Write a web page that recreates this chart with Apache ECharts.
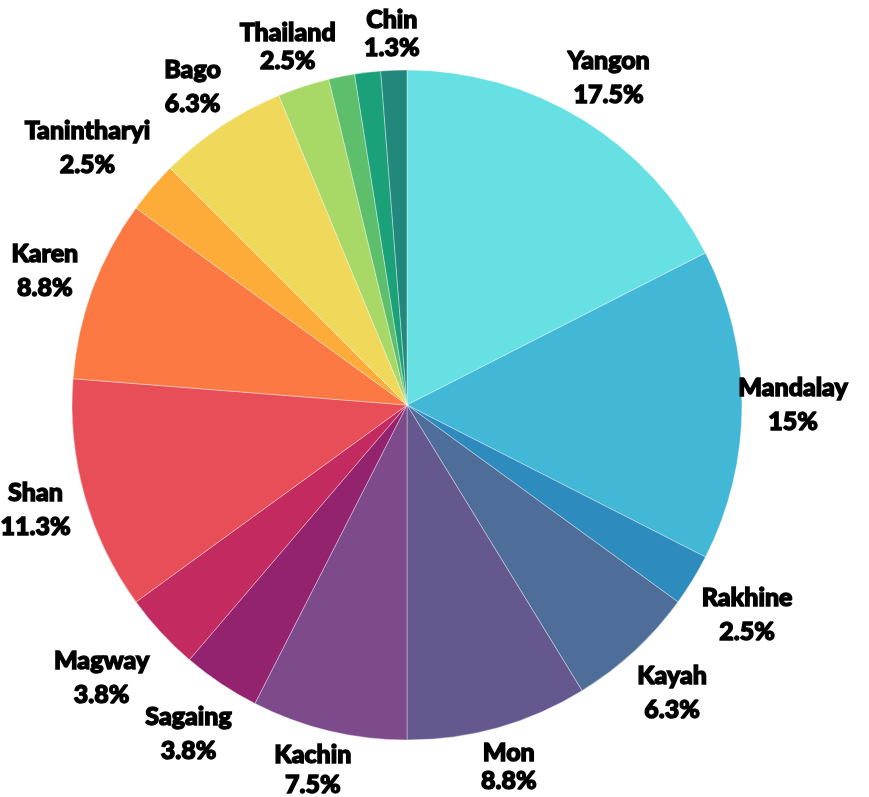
<!DOCTYPE html>
<html>
<head>
<meta charset="utf-8">
<script src="https://cdn.jsdelivr.net/npm/echarts@6/dist/echarts.min.js"></script>
<style>
html,body{margin:0;padding:0;background:#fff;}
#chart{width:869px;height:797px;}
</style>
</head>
<body>
<div id="chart"></div>
<script>
const categories = ["Yangon","Mandalay","Rakhine","Kayah","Mon","Kachin","Sagaing","Magway","Shan","Karen","Tanintharyi","Bago","Thailand","Ayeyarwady","Naypyidaw","Chin"];
const values = [14,12,2,5,7,6,3,3,9,7,2,5,2,1,1,1];
const colors = ["#67e0e3","#42b7d6","#2e8bbd","#4e6e99","#64588f","#7d4a8c","#93236f","#c32a5f","#e84e58","#fd7944","#fdac3a","#efd85a","#a8d866","#5dbe6c","#1ba17a","#22887c"];
const hiddenLabels = ["Ayeyarwady","Naypyidaw"];

const labelTweaks = {
  "Chin": {lineHeight: 28, offset: [0, 15]},
  "Thailand": {lineHeight: 28, offset: [0, 9]},
  "Bago": {offset: [0, 3]},
  "Yangon": {offset: [0, 2]},
  "Mon": {lineHeight: 28, offset: [-3, -10]},
  "Kachin": {lineHeight: 30, offset: [-4, -10]},
  "Sagaing": {offset: [-4, 8]},
  "Magway": {offset: [-22, 11]},
  "Tanintharyi": {offset: [-26, -6]},
  "Rakhine": {offset: [11, 8]},
  "Kayah": {offset: [3, 4]}
};

const chart = echarts.init(document.getElementById('chart'), null, {renderer: 'canvas'});
const center = [407, 405];

const pieData = categories.map((c, i) => ({
  name: c, value: values[i], itemStyle: {color: colors[i]}
}));
const labelData = categories.map((c, i) => {
  const t = labelTweaks[c] || {};
  const d = {name: c, value: values[i]};
  d.label = Object.assign({show: hiddenLabels.indexOf(c) < 0}, t);
  return d;
});

chart.setOption({
  animation: false,
  backgroundColor: '#fff',
  series: [
    {
      type: 'pie',
      center: center,
      radius: [0, 335],
      startAngle: 90,
      clockwise: true,
      silent: true,
      itemStyle: {borderColor: 'rgba(255,255,255,0.6)', borderWidth: 0.6},
      label: {show: false},
      labelLine: {show: false},
      data: pieData
    },
    {
      type: 'pie',
      center: center,
      radius: [335, 431],
      startAngle: 90,
      clockwise: true,
      silent: true,
      avoidLabelOverlap: false,
      labelLayout: {hideOverlap: false},
      itemStyle: {color: 'rgba(0,0,0,0)'},
      labelLine: {show: false},
      label: {
        show: true,
        position: 'inside',
        formatter: function(p){ return p.name + '\n' + (Math.round(p.percent*10)/10) + '%'; },
        color: '#000',
        fontFamily: '"Lato Black", Lato',
        fontWeight: 900,
        fontSize: 25,
        lineHeight: 34,
        textBorderColor: '#000',
        textBorderWidth: 1.4,
        align: 'center'
      },
      data: labelData
    }
  ]
});
</script>
</body>
</html>
